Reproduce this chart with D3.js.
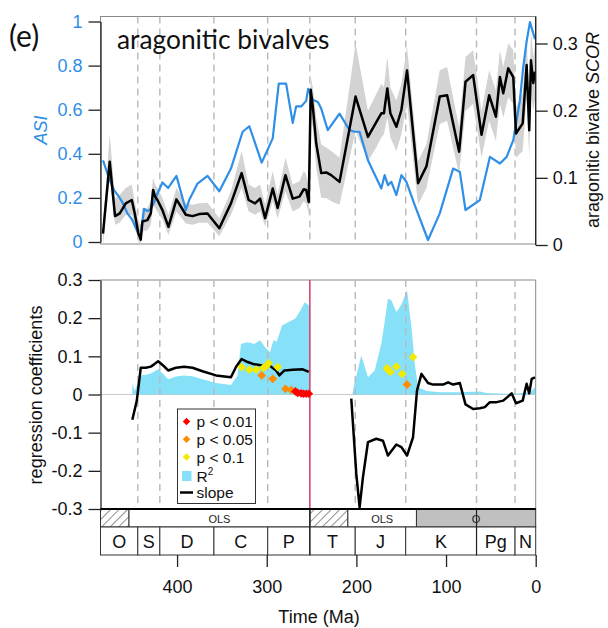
<!DOCTYPE html>
<html><head><meta charset="utf-8">
<script src="https://cdn.jsdelivr.net/npm/d3@7"></script>
<style>
body{margin:0;background:#fff}
svg{display:block}
text{font-family:"Liberation Sans",Arial,sans-serif}
</style>
</head><body>
<svg id="chart" width="608" height="628"></svg>
<script>
// ---------- data ----------
// geological periods: name and start age (Ma); each ends where the next begins
const periodNames  = ["O","S","D","C","P","T","J","K","Pg","N"];
const periodStarts = [485.4, 443.8, 419.2, 358.9, 298.9, 251.9, 201.3, 145.0, 66.0, 23.03];
// regression method blocks below the lower panel
const methodStarts = [485.4, 453.6, 251.9, 209.5, 133.0];
const methodEnds   = [453.6, 251.9, 209.5, 133.0, 0];
const methodLabels = ["", "OLS", "", "OLS", "O"];
const xTicks = [400, 300, 200, 100, 0];
const asiTicks = [0, 0.2, 0.4, 0.6, 0.8, 1];
const scorTicks = [0, 0.1, 0.2, 0.3];
const regTicks = [-0.3, -0.2, -0.1, 0, 0.1, 0.2, 0.3];

// aragonite sea index [age Ma, ASI]
const asiSeries = [
  [482.6,0.37],[475.1,0.28],[470.3,0.235],[464.7,0.205],[461.0,0.18],[455.4,0.13],[449.9,0.10],
  [442.4,0.03],[440.5,0.025],[436.8,0.15],[433.1,0.14],[429.3,0.15],[425.6,0.18],[421.9,0.22],
  [416.3,0.27],[409.9,0.245],[400.7,0.30],[390.2,0.145],[386.5,0.19],[377.2,0.265],[366.0,0.30],
  [352.9,0.23],[339.9,0.333],[326.9,0.50],[319.4,0.525],[305.6,0.36],[293.3,0.47],[286.6,0.718],
  [278.4,0.718],[271.0,0.54],[267.2,0.615],[261.6,0.615],[256.0,0.64],[253.8,0.695],[248.6,0.645],
  [243.0,0.635],[239.2,0.605],[231.9,0.507],[218.8,0.582],[207.6,0.507],[202.0,0.50],[196.4,0.50],
  [187.1,0.371],[172.2,0.243],[168.5,0.303],[164.8,0.258],[161.0,0.273],[155.4,0.213],[149.8,0.303],
  [144.2,0.273],[134.9,0.167],[120.1,0.009],[107.0,0.13],[92.1,0.333],[84.6,0.318],[78.3,0.145],
  [62.3,0.19],[51.1,0.386],[39.9,0.356],[32.4,0.386],[25.0,0.462],[17.6,0.643],[13.9,0.793],
  [10.1,0.91],[6.4,0.997],[0.8,0.92]
];

// aragonitic bivalve SCOR: age, mean, lower and upper bounds
const scorAge = [482.6,475.1,469.2,463.9,457.2,450.5,447.2,443.1,440.5,438.7,433.1,429.3,426.7,424.5,
  421.9,416.3,409.6,400.7,390.2,382.8,375.3,366.0,352.9,339.9,328.0,320.2,313.0,307.4,301.8,293.3,
  287.8,279.1,271.0,263.5,258.7,256.0,253.1,250.9,248.6,244.8,239.2,233.6,228.1,218.8,200.9,187.1,
  177.8,172.2,169.3,165.5,162.1,155.4,149.8,143.5,131.2,121.9,107.0,98.8,85.4,78.3,69.8,60.4,51.9,
  44.4,39.9,36.2,30.6,25.0,22.0,14.5,10.1,7.2,5.3,2.7,0.8];
const scorMean = [0.017,0.124,0.043,0.047,0.062,0.067,0.047,0.017,0.008,0.035,0.037,0.047,0.082,0.072,
  0.067,0.052,0.027,0.068,0.045,0.043,0.046,0.047,0.025,0.062,0.107,0.067,0.062,0.069,0.040,0.084,
  0.055,0.104,0.069,0.072,0.083,0.082,0.064,0.231,0.206,0.151,0.107,0.108,0.104,0.094,0.221,0.161,
  0.183,0.196,0.196,0.233,0.196,0.176,0.201,0.260,0.092,0.117,0.221,0.223,0.139,0.243,0.253,0.164,0.223,
  0.191,0.250,0.226,0.263,0.250,0.166,0.181,0.268,0.171,0.275,0.241,0.258];
const scorLower = [0.000,0.100,0.030,0.033,0.045,0.045,0.030,0.005,0.000,0.020,0.022,0.030,0.060,0.055,
  0.050,0.038,0.015,0.050,0.032,0.030,0.033,0.033,0.013,0.045,0.085,0.050,0.045,0.050,0.028,0.065,
  0.040,0.080,0.050,0.055,0.065,0.062,0.045,0.190,0.175,0.115,0.070,0.070,0.065,0.060,0.170,0.125,
  0.145,0.160,0.165,0.190,0.160,0.140,0.165,0.210,0.060,0.085,0.180,0.185,0.105,0.200,0.210,0.130,0.185,
  0.155,0.210,0.190,0.220,0.210,0.130,0.140,0.220,0.130,0.230,0.200,0.215];
const scorUpper = [0.030,0.165,0.070,0.075,0.085,0.090,0.065,0.035,0.030,0.055,0.055,0.065,0.100,0.090,
  0.085,0.070,0.045,0.085,0.062,0.060,0.062,0.063,0.040,0.080,0.140,0.090,0.085,0.090,0.060,0.110,
  0.075,0.130,0.090,0.095,0.110,0.105,0.085,0.250,0.235,0.190,0.150,0.145,0.140,0.130,0.300,0.200,
  0.225,0.240,0.235,0.280,0.235,0.215,0.240,0.295,0.125,0.150,0.260,0.265,0.175,0.280,0.290,0.200,0.260,
  0.230,0.290,0.265,0.300,0.290,0.205,0.225,0.310,0.215,0.320,0.280,0.300];

// regression slope [age, value] for the Palaeozoic and post-Triassic windows
const slopeEarly = [[449.9,-0.066],[444.9,-0.016],[440.5,0.070],[434.9,0.070],[429.3,0.073],[425.6,0.079],
  [421.1,0.087],[415.5,0.076],[409.9,0.063],[401.3,0.070],[392.1,0.073],[382.8,0.070],[371.6,0.061],
  [356.6,0.050],[339.9,0.045],[334.3,0.072],[328.0,0.093],[321.3,0.085],[313.8,0.079],[304.5,0.076],
  [297.0,0.076],[289.5,0.063],[285.9,0.050],[280.3,0.063],[271.0,0.065],[259.8,0.066],[253.1,0.059]];
const slopeLate = [[205.7,-0.011],[200.1,-0.208],[196.4,-0.296],[192.7,-0.217],[187.1,-0.125],[177.8,-0.116],
  [170.4,-0.121],[164.8,-0.160],[155.4,-0.131],[149.8,-0.138],[143.5,-0.160],[136.8,-0.112],[132.4,0.010],
  [127.4,0.054],[120.1,0.030],[114.5,0.026],[103.3,0.026],[97.7,0.032],[92.1,0.026],[84.6,0.030],
  [78.3,-0.026],[69.8,-0.038],[62.3,-0.036],[56.7,-0.033],[51.1,-0.020],[43.6,-0.020],[36.2,-0.016],
  [26.8,0.003],[22.0,-0.023],[14.5,-0.016],[10.1,0.028],[7.2,0.003],[4.5,0.041],[0.8,0.045]];
// coefficient of determination [age, R2]
const r2Early = [[449.9,0.028],[447.2,0.010],[440.5,0.050],[434.9,0.052],[429.3,0.055],[421.1,0.066],
  [415.5,0.054],[409.9,0.040],[401.3,0.047],[392.1,0.050],[382.8,0.048],[371.6,0.040],[356.6,0.030],
  [339.9,0.025],[332.5,0.050],[328.7,0.133],[321.3,0.137],[313.8,0.132],[307.4,0.142],[301.8,0.124],
  [296.2,0.111],[292.5,0.142],[288.8,0.138],[283.0,0.181],[275.5,0.190],[268.0,0.199],[262.4,0.220],
  [257.6,0.242],[253.1,0.234],[252.1,0.234]];
const r2Late = [[204.6,0.0],[202.0,0.030],[194.5,0.102],[187.1,0.045],[179.6,0.063],[172.2,0.133],[168.5,0.190],
  [164.8,0.251],[161.0,0.247],[155.4,0.216],[149.8,0.235],[143.5,0.273],[138.6,0.177],[134.9,0.080],
  [131.2,0.019],[127.4,0.015],[121.9,0.009],[107.0,0.006],[84.6,0.006],[62.3,0.008],[54.8,0.004],
  [32.4,0.002],[17.6,0.003],[6.4,0.006],[0.8,0.019]];
// significant slopes [age, value]
const sigP10 = [[328.0,0.072],[319.4,0.065],[311.9,0.065],[303.7,0.070],[300.4,0.075],[297.8,0.082],[287.8,0.072],
  [165.9,0.069],[164.8,0.065],[162.1,0.059],[155.4,0.073],[149.1,0.054],[136.8,0.098]];
const sigP05 = [[305.6,0.050],[293.3,0.041],[279.1,0.015],[272.8,0.012],[143.5,0.026]];
const sigP01 = [[268.0,0.008],[265.4,0.004],[261.6,0.003],[259.0,0.002],[256.0,0.002],[253.1,0.002]];

// ---------- layout ----------
const svg = d3.select("#chart");
const L = 100.5, R = 535.7;
const topY0 = 16.5, topY1 = 244;
const botY0 = 280, botY1 = 509;
const methodY1 = 527, periodY1 = 555;

const x = d3.scaleLinear().domain([485.4, 0]).range([L, R]);
const yAsi = d3.scaleLinear().domain([0, 1]).range([242, 21.5]);
const yScor = d3.scaleLinear().domain([0, 0.3]).range([245, 43.5]);
const yReg = d3.scaleLinear().domain([-0.3, 0.3]).range([botY1, botY0]);

const blue = "#2f8ee6";
const defs = svg.append("defs");
defs.append("clipPath").attr("id","clipTop").append("rect")
  .attr("x",L).attr("y",topY0).attr("width",R-L).attr("height",topY1-topY0+1);
defs.append("clipPath").attr("id","clipBot").append("rect")
  .attr("x",L).attr("y",botY0).attr("width",R-L).attr("height",botY1-botY0);
const hatch = defs.append("pattern").attr("id","hatch").attr("patternUnits","userSpaceOnUse")
  .attr("width",6).attr("height",6).attr("patternTransform","rotate(45)");
hatch.append("line").attr("x1",0).attr("y1",0).attr("x2",0).attr("y2",6)
  .attr("stroke","#333").attr("stroke-width",1.1);

const boundaries = periodStarts.slice(1);

// ---------- top panel ----------
svg.append("rect").attr("x",L).attr("y",topY0).attr("width",R-L).attr("height",topY1-topY0)
  .attr("fill","none").attr("stroke","#888").attr("stroke-width",1);

const gTop = svg.append("g").attr("clip-path","url(#clipTop)");
gTop.selectAll("line.vb").data(boundaries).join("line")
  .attr("x1",d=>x(d)).attr("x2",d=>x(d)).attr("y1",topY0).attr("y2",topY1)
  .attr("stroke","#b8b8b8").attr("stroke-width",1.4).attr("stroke-dasharray","7,5");

const scorRows = scorAge.map((a,i)=>({a, m:scorMean[i], lo:scorLower[i], hi:scorUpper[i]}));
gTop.append("path").datum(scorRows)
  .attr("d", d3.area().x(d=>x(d.a)).y0(d=>yScor(d.lo)).y1(d=>yScor(d.hi)))
  .attr("fill","#d3d3d3");
gTop.append("path").datum(asiSeries)
  .attr("d", d3.line().x(d=>x(d[0])).y(d=>yAsi(d[1])))
  .attr("fill","none").attr("stroke",blue).attr("stroke-width",2.2).attr("stroke-linejoin","round");
gTop.append("path").datum(scorRows)
  .attr("d", d3.line().x(d=>x(d.a)).y(d=>yScor(d.m)))
  .attr("fill","none").attr("stroke","#000").attr("stroke-width",2.5).attr("stroke-linejoin","round");

const fmt1 = d => d === 0 ? "0" : (d === 1 ? "1" : d.toFixed(1));
const axAsi = svg.append("g").attr("transform",`translate(${L},0)`)
  .call(d3.axisLeft(yAsi).tickValues(asiTicks).tickFormat(fmt1).tickSize(12).tickSizeOuter(0).tickPadding(6));
axAsi.selectAll("text").attr("fill",blue).style("font-size","18px");
axAsi.selectAll("line,path").attr("stroke","#222").attr("stroke-width",1.3);

const axScor = svg.append("g").attr("transform",`translate(${R},0)`)
  .call(d3.axisRight(yScor).tickValues(scorTicks).tickFormat(fmt1).tickSize(12).tickSizeOuter(0).tickPadding(5));
axScor.select("path").remove();
axScor.selectAll("text").attr("fill","#111").style("font-size","18px");
axScor.selectAll("line").attr("stroke","#222").attr("stroke-width",1.3);
svg.append("line").attr("x1",R).attr("x2",R).attr("y1",topY0).attr("y2",245)
  .attr("stroke","#222").attr("stroke-width",1.3);

svg.append("text").attr("transform","translate(47,130) rotate(-90)")
  .attr("text-anchor","middle").attr("fill",blue).style("font-size","18px").style("font-style","italic")
  .text("ASI");
const rl = svg.append("text").attr("transform","translate(599,130) rotate(-90)")
  .attr("text-anchor","middle").attr("fill","#111").style("font-size","18px");
rl.append("tspan").text("aragonitic bivalve ");
rl.append("tspan").style("font-style","italic").text("SCOR");

svg.append("text").attr("x",9).attr("y",47).style("font-family","Lato, sans-serif")
  .style("font-size","30px").attr("fill","#111").text("(e)");
svg.append("text").attr("x",117).attr("y",49).style("font-family","Lato, sans-serif")
  .style("font-size","26.3px").attr("fill","#111").text("aragonitic bivalves");

// ---------- bottom panel ----------
svg.append("line").attr("x1",L).attr("x2",R).attr("y1",botY0).attr("y2",botY0).attr("stroke","#888");
svg.append("line").attr("x1",R).attr("x2",R).attr("y1",botY0).attr("y2",botY1).attr("stroke","#888");

const gBot = svg.append("g").attr("clip-path","url(#clipBot)");
gBot.append("line").attr("x1",L).attr("x2",R).attr("y1",yReg(0)).attr("y2",yReg(0))
  .attr("stroke","#c8c8c8").attr("stroke-width",1);
const r2Area = d3.area().x(d=>x(d[0])).y0(yReg(0)).y1(d=>yReg(d[1]));
[r2Early, r2Late].forEach(s => gBot.append("path").datum(s).attr("d", r2Area).attr("fill","#86e0f7"));
gBot.selectAll("line.vb").data(boundaries.filter(d=>d!==251.9)).join("line")
  .attr("x1",d=>x(d)).attr("x2",d=>x(d)).attr("y1",botY0).attr("y2",botY1)
  .attr("stroke","#b8b8b8").attr("stroke-width",1.4).attr("stroke-dasharray","7,5");
gBot.append("line").attr("x1",x(251.9)).attr("x2",x(251.9)).attr("y1",botY0).attr("y2",botY1)
  .attr("stroke","#d23a68").attr("stroke-width",1.5);
const slopeLine = d3.line().x(d=>x(d[0])).y(d=>yReg(d[1]));
[slopeEarly, slopeLate].forEach(s => gBot.append("path").datum(s).attr("d", slopeLine)
  .attr("fill","none").attr("stroke","#000").attr("stroke-width",2.5).attr("stroke-linejoin","round"));

const diamond = d3.symbol().type(d3.symbolSquare).size(38);
const sigSets = [[sigP10,"#f2ea00"],[sigP05,"#ff8c00"],[sigP01,"#ff0000"]];
sigSets.forEach(([pts,col]) => {
  gBot.append("g").selectAll("path").data(pts).join("path")
    .attr("d", diamond)
    .attr("transform", d=>`translate(${x(d[0])},${yReg(d[1])}) rotate(45)`)
    .attr("fill", col);
});

const axReg = svg.append("g").attr("transform",`translate(${L},0)`)
  .call(d3.axisLeft(yReg).tickValues(regTicks).tickFormat(d=>d===0?"0":d.toFixed(1)).tickSize(12).tickSizeOuter(0).tickPadding(6));
axReg.selectAll("text").attr("fill","#111").style("font-size","18px");
axReg.selectAll("line,path").attr("stroke","#222").attr("stroke-width",1.3);
svg.append("text").attr("transform","translate(42,395) rotate(-90)")
  .attr("text-anchor","middle").attr("fill","#111").style("font-size","18px").text("regression coefficients");

// legend
const lg = svg.append("g");
lg.append("rect").attr("x",177.5).attr("y",409).attr("width",78).attr("height",94.5)
  .attr("fill","#fff").attr("stroke","#333").attr("stroke-width",1);
const legendRows = [["p < 0.01","#ff0000"],["p < 0.05","#ff8c00"],["p < 0.1","#f2ea00"]];
legendRows.forEach(([lab,col],i) => {
  const yy = 421.5 + i*17.8;
  lg.append("path").attr("d", d3.symbol().type(d3.symbolSquare).size(28))
    .attr("transform",`translate(186.5,${yy}) rotate(45)`).attr("fill",col);
  lg.append("text").attr("x",196.5).attr("y",yy+5.5).style("font-size","15.5px").attr("fill","#111").text(lab);
});
lg.append("rect").attr("x",182).attr("y",471).attr("width",9.5).attr("height",10).attr("fill","#86e0f7");
const r2t = lg.append("text").attr("x",196.5).attr("y",481.5).style("font-size","15.5px").attr("fill","#111");
r2t.append("tspan").text("R");
r2t.append("tspan").attr("dy",-7).style("font-size","10px").text("2");
lg.append("line").attr("x1",180).attr("x2",193).attr("y1",492.5).attr("y2",492.5).attr("stroke","#000").attr("stroke-width",2.5);
lg.append("text").attr("x",196.5).attr("y",497.5).style("font-size","15.5px").attr("fill","#111").text("slope");

// ---------- time scale ----------
const gScale = svg.append("g");
methodStarts.forEach((s,i) => {
  const e = methodEnds[i], lab = methodLabels[i];
  gScale.append("rect").attr("x",x(s)).attr("y",botY1).attr("width",x(e)-x(s)).attr("height",methodY1-botY1)
    .attr("fill", lab === "" ? "url(#hatch)" : (lab === "O" ? "#c0c0c0" : "#fff"))
    .attr("stroke","#333").attr("stroke-width",1);
  if (lab) gScale.append("text").attr("x",(x(s)+x(e))/2).attr("y",botY1+13.5)
    .attr("text-anchor","middle").style("font-size","11px").attr("fill","#222").text(lab);
});
periodNames.forEach((n,i) => {
  const s = periodStarts[i], e = i+1 < periodStarts.length ? periodStarts[i+1] : 0;
  gScale.append("rect").attr("x",x(s)).attr("y",methodY1).attr("width",x(e)-x(s)).attr("height",periodY1-methodY1)
    .attr("fill","#fff").attr("stroke","#333").attr("stroke-width",1);
  gScale.append("text").attr("x",(x(s)+x(e))/2).attr("y",methodY1+20.5)
    .attr("text-anchor","middle").style("font-size","18px").attr("fill","#111").text(n);
});
// P/T and K/Pg boundaries run through both rows
[251.9, 66.0].forEach(b => gScale.append("line").attr("x1",x(b)).attr("x2",x(b)).attr("y1",botY1).attr("y2",periodY1)
  .attr("stroke","#222").attr("stroke-width",1.2));
svg.append("line").attr("x1",L).attr("x2",R).attr("y1",botY1).attr("y2",botY1)
  .attr("stroke","#000").attr("stroke-width",2.2);

const axX = svg.append("g").attr("transform",`translate(0,${periodY1})`)
  .call(d3.axisBottom(x).tickValues(xTicks).tickFormat(d3.format("d")).tickSize(12).tickPadding(13));
axX.select("path").remove();
axX.selectAll("line").attr("stroke","#222").attr("stroke-width",1.3);
axX.selectAll("text").attr("fill","#111").style("font-size","18px");
svg.append("text").attr("x",319).attr("y",623).attr("text-anchor","middle")
  .style("font-size","18px").attr("fill","#111").text("Time (Ma)");
</script>
</body></html>
